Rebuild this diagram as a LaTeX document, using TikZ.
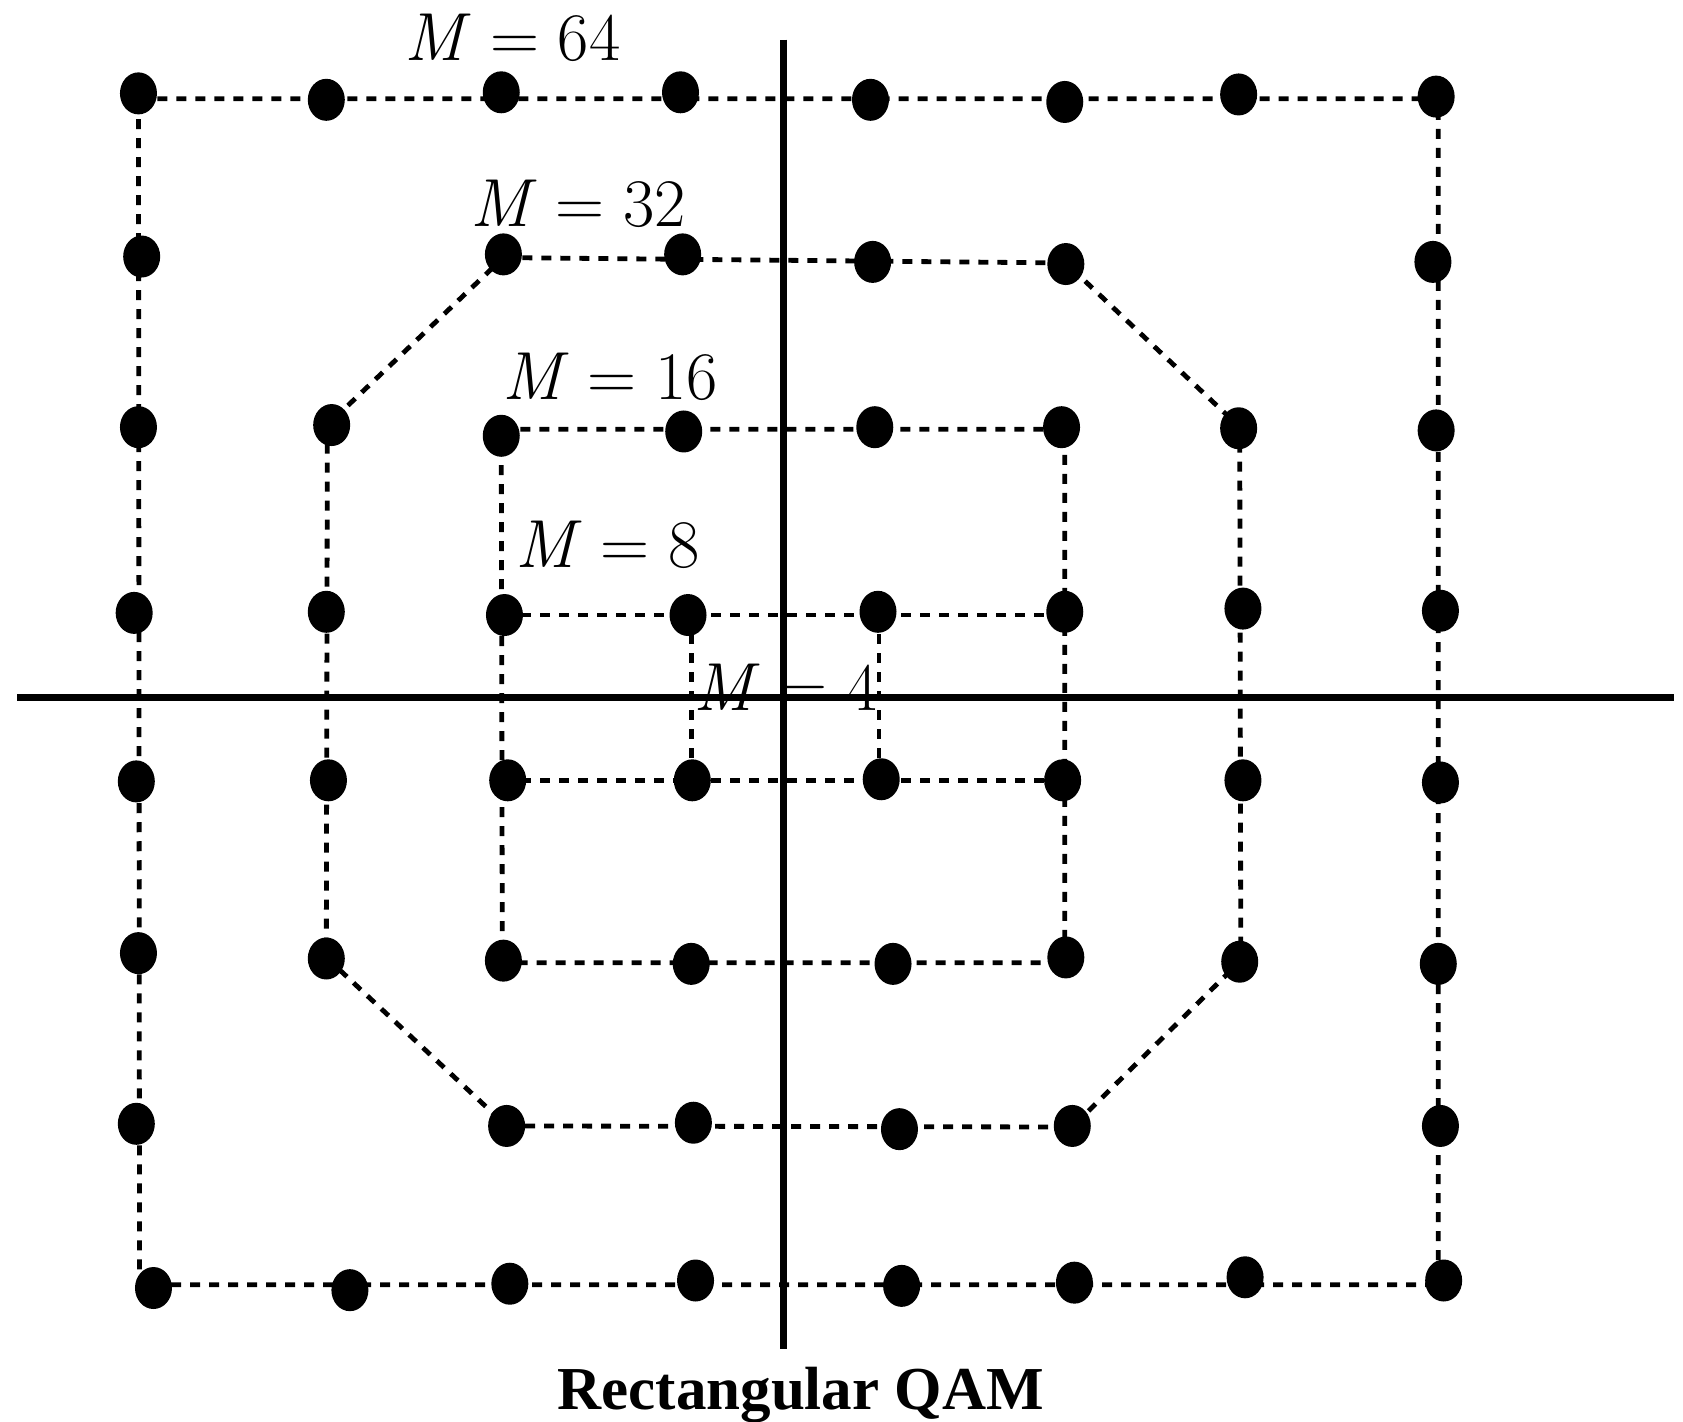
\documentclass[tikz,border=0pt]{standalone}
\usepackage{fontspec}
\newfontfamily\tnr{Liberation Serif}
\usetikzlibrary{shapes.geometric}
\newcommand{\mlab}[1]{\textit{M}\hspace{0.2778em}=\hspace{0.2778em}#1}
\tikzset{
  dot/.style={ellipse,fill=black,draw=none,inner sep=0pt,minimum width=37pt,minimum height=42pt},
  dl/.style={line width=4.8pt,dash pattern=on 10pt off 9pt},
  axis/.style={line width=6.5pt},
  lbl/.style={anchor=base west,inner sep=0pt,font=\fontsize{68}{74}\selectfont},
}
\begin{document}
\begin{tikzpicture}[x=1.0733pt,y=-1.0733pt]
\useasboundingbox (0,0) rectangle (1568,1324);
% outline corners
\coordinate (o1) at (129,92); \coordinate (o2) at (1340,92);
\coordinate (o3) at (1340,1197); \coordinate (o4) at (130,1197);
\coordinate (p1) at (469,240); \coordinate (p2) at (993,245);
\coordinate (p3) at (1155,398); \coordinate (p4) at (1156,895);
\coordinate (p5) at (999,1050); \coordinate (p6) at (472,1049);
\coordinate (p7) at (304,892); \coordinate (p8) at (305,396);
\coordinate (q1) at (467,400); \coordinate (q2) at (992,400);
\coordinate (q3) at (992,897); \coordinate (q4) at (468,897);
\coordinate (e1) at (468,573); \coordinate (e2) at (992,573);
\coordinate (e3) at (468,727); \coordinate (e4) at (992,727);
\coordinate (f1) at (644,573); \coordinate (f2) at (644,727);
\coordinate (g1) at (819,573); \coordinate (g2) at (819,727);
% dashed outlines
\draw[dl] (o1) -- (o2) -- (o3) -- (o4) -- cycle;
\draw[dl] (p1) -- (p2) -- (p3) -- (p4) -- (p5) -- (p6) -- (p7) -- (p8) -- cycle;
\draw[dl] (q1) -- (q2) -- (q3) -- (q4) -- cycle;
\draw[dl] (e1) -- (e2);
\draw[dl] (e3) -- (e4);
\draw[dl] (f1) -- (f2);
\draw[dl] (g1) -- (g2);
% axes
\coordinate (vt) at (730,37); \coordinate (vb) at (730,1257);
\coordinate (hl) at (16,650); \coordinate (hr) at (1560,650);
\draw[axis] (vt) -- (vb);
\draw[axis] (hl) -- (hr);
% dots row 1
\node[dot] (a1) at (129,87) {};
\node[dot] (a2) at (304,93) {};
\node[dot] (a3) at (467,86) {};
\node[dot] (a4) at (634,86) {};
\node[dot] (a5) at (811,93) {};
\node[dot] (a6) at (992,95) {};
\node[dot] (a7) at (1154,88) {};
\node[dot] (a8) at (1338,90) {};
% row 2
\node[dot] (b1) at (132,239) {};
\node[dot] (b3) at (469,237) {};
\node[dot] (b4) at (636,237) {};
\node[dot] (b5) at (813,244) {};
\node[dot] (b6) at (993,246) {};
\node[dot] (b8) at (1335,244) {};
% row 3
\node[dot] (c1) at (129,398) {};
\node[dot] (c2) at (309,396) {};
\node[dot] (c3) at (467,406) {};
\node[dot] (c4) at (637,402) {};
\node[dot] (c5) at (815,398) {};
\node[dot] (c6) at (989,398) {};
\node[dot] (c7) at (1154,399) {};
\node[dot] (c8) at (1338,401) {};
% row 4
\node[dot] (d1) at (125,571) {};
\node[dot] (d2) at (304,570) {};
\node[dot] (d3) at (470,573) {};
\node[dot] (d4) at (641,573) {};
\node[dot] (d5) at (818,570) {};
\node[dot] (d6) at (992,570) {};
\node[dot] (d7) at (1158,567) {};
\node[dot] (d8) at (1342,569) {};
% row 5
\node[dot] (h1) at (127,728) {};
\node[dot] (h2) at (306,727) {};
\node[dot] (h3) at (473,727) {};
\node[dot] (h4) at (645,727) {};
\node[dot] (h5) at (821,726) {};
\node[dot] (h6) at (990,727) {};
\node[dot] (h7) at (1158,727) {};
\node[dot] (h8) at (1342,729) {};
% row 6
\node[dot] (i1) at (129,888) {};
\node[dot] (i2) at (304,893) {};
\node[dot] (i3) at (469,895) {};
\node[dot] (i4) at (644,898) {};
\node[dot] (i5) at (832,898) {};
\node[dot] (i6) at (993,892) {};
\node[dot] (i7) at (1155,896) {};
\node[dot] (i8) at (1340,898) {};
% row 7
\node[dot] (j1) at (127,1047) {};
\node[dot] (j3) at (472,1049) {};
\node[dot] (j4) at (646,1046) {};
\node[dot] (j5) at (838,1052) {};
\node[dot] (j6) at (999,1049) {};
\node[dot] (j8) at (1342,1049) {};
% row 8
\node[dot] (k1) at (143,1200) {};
\node[dot] (k2) at (326,1202) {};
\node[dot] (k3) at (475,1196) {};
\node[dot] (k4) at (648,1193) {};
\node[dot] (k5) at (840,1198) {};
\node[dot] (k6) at (1001,1195) {};
\node[dot] (k7) at (1160,1190) {};
\node[dot] (k8) at (1345,1193) {};
% labels
\node[lbl] (l64) at (377,56) {\mlab{64}};
\node[lbl] (l32) at (438,211) {\mlab{32}};
\node[lbl] (l16) at (468,372) {\mlab{16}};
\node[lbl] (l8) at (480,529) {\mlab{8}};
\node[lbl] (l4) at (646,662) {\mlab{4}};
\node[anchor=base,inner sep=0pt,font=\tnr\bfseries\fontsize{61}{68}\selectfont] (title) at (746,1313) {Rectangular QAM};
\end{tikzpicture}
\end{document}
